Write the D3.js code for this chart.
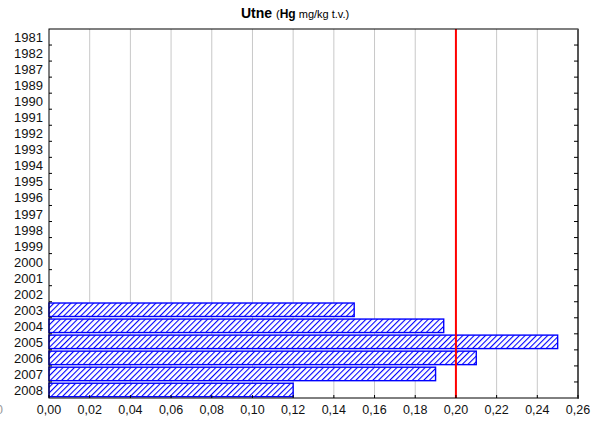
<!DOCTYPE html>
<html><head><meta charset="utf-8">
<script src="https://cdn.jsdelivr.net/npm/d3@7"></script>
<style>body{margin:0;background:#fff}svg{display:block;font-family:Arial,"Liberation Sans",sans-serif}</style>
</head><body><svg id="c" width="598" height="426"></svg>
<script>
const years = ["1981","1982","1987","1989","1990","1991","1992","1993","1994","1995","1996","1997","1998","1999","2000","2001","2002","2003","2004","2005","2006","2007","2008"];
const values = [null,null,null,null,null,null,null,null,null,null,null,null,null,null,null,null,null,0.150,0.194,0.250,0.210,0.190,0.120];
const xTicks = [0,0.02,0.04,0.06,0.08,0.10,0.12,0.14,0.16,0.18,0.20,0.22,0.24,0.26];
const limit = 0.20;

const svg = d3.select("#c");
const L=49, R=578, T=29, B=398;
const x = d3.scaleLinear().domain([0,0.26]).range([L,R]);
const y = d3.scaleBand().domain(years).range([T,B]).paddingInner(0.16).paddingOuter(0.08);
const yb = d3.scaleBand().domain(years).range([T,B]);

const defs = svg.append("defs");
const pat = defs.append("pattern").attr("id","hatch").attr("patternUnits","userSpaceOnUse")
  .attr("width",4).attr("height",4).attr("patternTransform","rotate(45)");
pat.append("rect").attr("width",4).attr("height",4).attr("fill","#fff");
pat.append("line").attr("x1",0.5).attr("y1",0).attr("x2",0.5).attr("y2",4).attr("stroke","#0000ff").attr("stroke-width",1.2);

// grid
svg.append("g").selectAll("line").data(xTicks.slice(1,-1)).join("line")
  .attr("x1",d=>x(d)).attr("x2",d=>x(d)).attr("y1",T).attr("y2",B)
  .attr("stroke","#c8c8c8").attr("stroke-width",1);

// bars
const data = years.map((k,i)=>({k,v:values[i]})).filter(d=>d.v!=null);
svg.append("g").selectAll("rect").data(data).join("rect")
  .attr("x",x(0)).attr("y",d=>y(d.k)).attr("width",d=>x(d.v)-x(0)).attr("height",y.bandwidth())
  .attr("fill","url(#hatch)").attr("stroke","#0000ff").attr("stroke-width",1.4);

// limit line
svg.append("line").attr("x1",x(limit)).attr("x2",x(limit)).attr("y1",T).attr("y2",B)
  .attr("stroke","#ff0000").attr("stroke-width",2);

// frame
svg.append("rect").attr("x",L).attr("y",T).attr("width",R-L).attr("height",B-T)
  .attr("fill","none").attr("stroke","#000").attr("stroke-width",1);
svg.append("line").attr("x1",R).attr("x2",R).attr("y1",T).attr("y2",B+1).attr("stroke","#555").attr("stroke-width",2);

// y ticks (inward) at row boundaries
const bounds = years.slice(1).map(k=>yb(k));
svg.append("g").selectAll("line").data(bounds).join("line")
  .attr("x1",L).attr("x2",L+3).attr("y1",d=>d).attr("y2",d=>d).attr("stroke","#000");
svg.append("g").selectAll("line").data(bounds).join("line")
  .attr("x1",R-4).attr("x2",R).attr("y1",d=>d).attr("y2",d=>d).attr("stroke","#000");

// x axis ticks inward
svg.append("g").selectAll("line").data(xTicks).join("line")
  .attr("x1",d=>x(d)).attr("x2",d=>x(d)).attr("y1",B-3).attr("y2",B).attr("stroke","#000");

// labels
const fmt = d=>d3.format(".2f")(d).replace(".",",");
svg.append("g").selectAll("text").data(xTicks).join("text")
  .attr("x",d=>x(d)).attr("y",414).attr("text-anchor","middle").attr("font-size",12.5).attr("fill","#111")
  .text(fmt);
svg.append("g").selectAll("text").data(years).join("text")
  .attr("x",43).attr("y",d=>yb(d)+yb.bandwidth()/2+5).attr("text-anchor","end").attr("font-size",13).attr("fill","#111")
  .text(d=>d);
svg.append("text").attr("x",3).attr("y",414).attr("text-anchor","end").attr("font-size",12.5).attr("fill","#999").text("0");

// title
const t = svg.append("text").attr("x",241).attr("y",18).attr("text-anchor","start").attr("fill","#000");
t.append("tspan").attr("font-weight","bold").attr("font-size",14).text("Utne ");
t.append("tspan").attr("font-size",11).text("(");
t.append("tspan").attr("font-weight","bold").attr("font-size",12).text("Hg");
t.append("tspan").attr("font-size",11).text(" mg/kg t.v.)");
</script></body></html>
